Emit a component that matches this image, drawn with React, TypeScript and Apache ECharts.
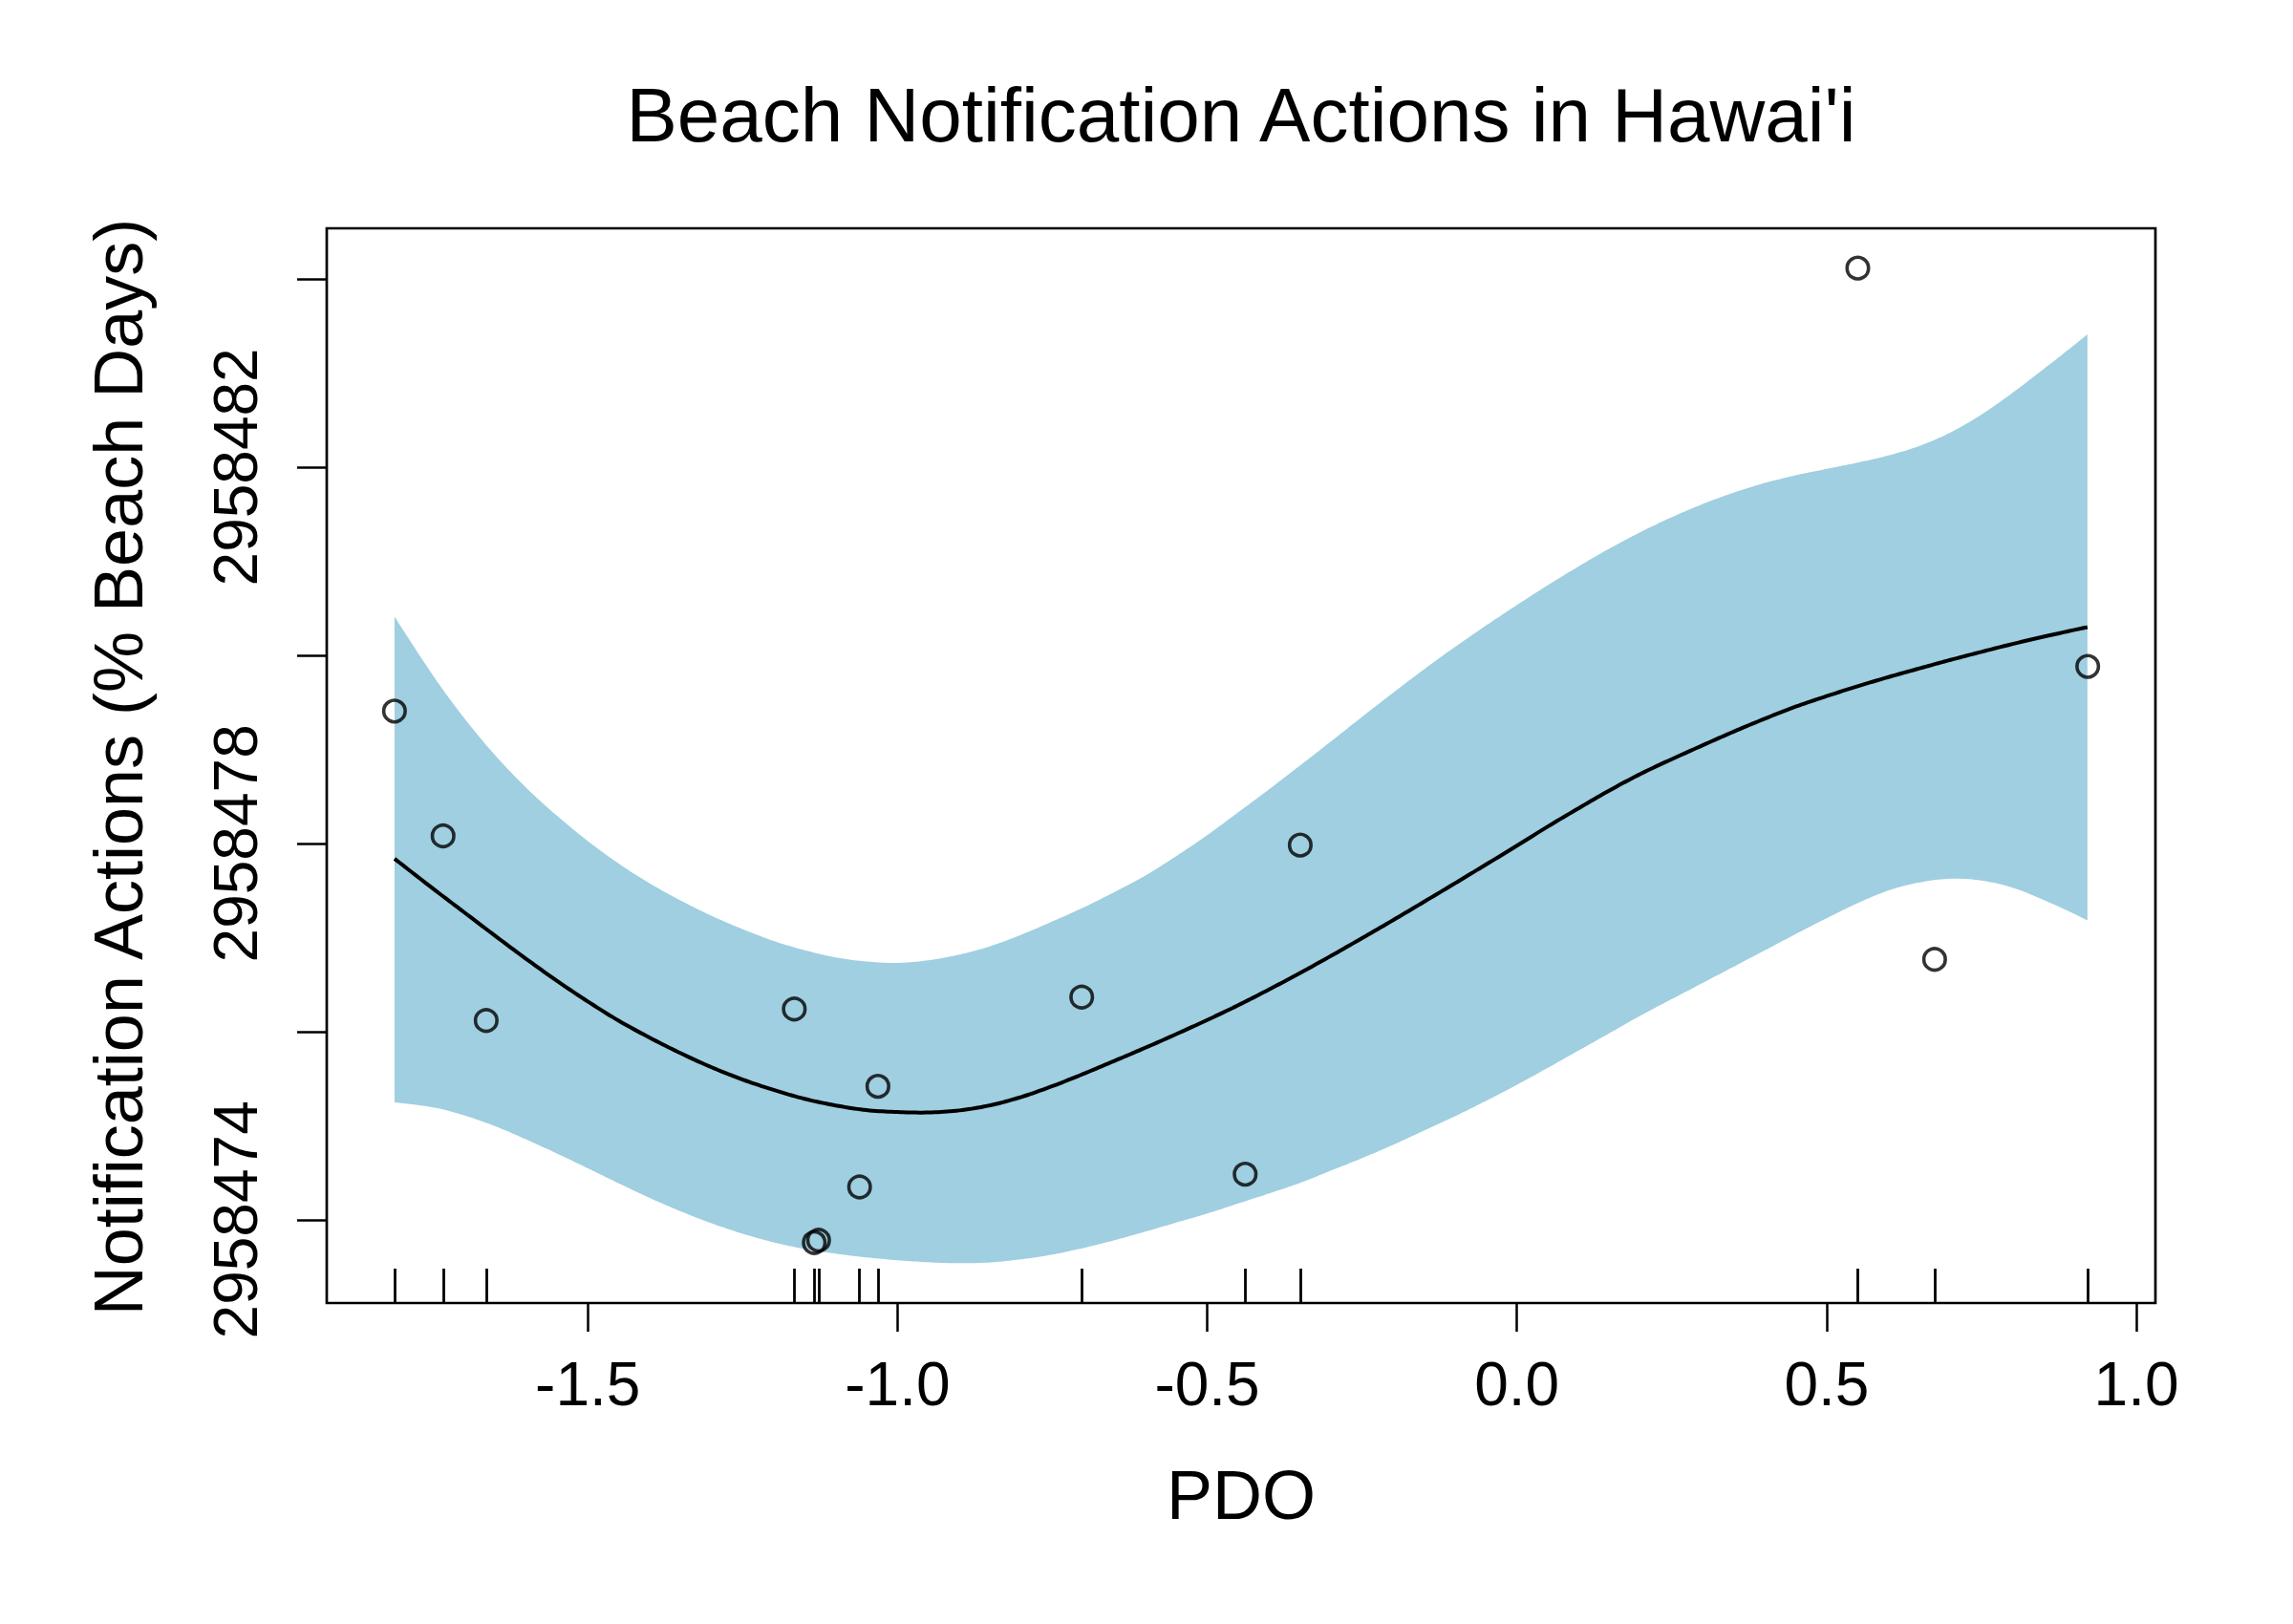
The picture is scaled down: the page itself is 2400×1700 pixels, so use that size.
import React, { useEffect, useRef } from "react";
import * as echarts from "echarts";

const TITLE = "Beach Notification Actions in Hawai'i";
const X_TITLE = "PDO";
const Y_TITLE = "Notification Actions (% Beach Days)";

const X_TICKS = [-1.5, -1.0, -0.5, 0.0, 0.5, 1.0];
const Y_TICKS = [2958474, 2958476, 2958478, 2958480, 2958482, 2958484];
const Y_TICK_LABELS = [2958474, 2958478, 2958482];

// observed points
const PDO_OBS = [-1.8121, -1.7336, -1.664, -1.1666, -1.1344, -1.1274, -1.0612, -1.0316, -0.7026, -0.4387, -0.3498, 0.5503, 0.6743, 0.9215];
const ACTIONS_OBS = [2958479.406, 2958478.08, 2958476.118, 2958476.239, 2958473.757, 2958473.782, 2958474.348, 2958475.418, 2958476.367, 2958474.484, 2958477.982, 2958484.114, 2958476.768, 2958479.881];

// smooth fit and confidence band
const PDO_GRID = [-1.812, -1.75, -1.7, -1.65, -1.6, -1.55, -1.5, -1.45, -1.4, -1.35, -1.3, -1.25, -1.2, -1.15, -1.1, -1.05, -1.0, -0.95, -0.9, -0.85, -0.8, -0.75, -0.7, -0.65, -0.6, -0.55, -0.5, -0.45, -0.4, -0.35, -0.3, -0.25, -0.2, -0.15, -0.1, -0.05, 0.0, 0.05, 0.1, 0.15, 0.2, 0.25, 0.3, 0.35, 0.4, 0.45, 0.5, 0.55, 0.6, 0.65, 0.7, 0.75, 0.8, 0.85, 0.9, 0.921];
const FIT = [2958477.837, 2958477.52, 2958477.27, 2958477.02, 2958476.775, 2958476.54, 2958476.32, 2958476.115, 2958475.935, 2958475.77, 2958475.62, 2958475.49, 2958475.38, 2958475.285, 2958475.215, 2958475.165, 2958475.145, 2958475.14, 2958475.162, 2958475.217, 2958475.305, 2958475.42, 2958475.55, 2958475.688, 2958475.828, 2958475.973, 2958476.123, 2958476.28, 2958476.448, 2958476.623, 2958476.805, 2958476.993, 2958477.184, 2958477.379, 2958477.576, 2958477.775, 2958477.975, 2958478.18, 2958478.375, 2958478.565, 2958478.74, 2958478.895, 2958479.043, 2958479.188, 2958479.325, 2958479.453, 2958479.565, 2958479.67, 2958479.768, 2958479.86, 2958479.95, 2958480.036, 2958480.119, 2958480.196, 2958480.269, 2958480.298];
const UPPER = [2958480.41, 2958479.785, 2958479.335, 2958478.94, 2958478.595, 2958478.295, 2958478.025, 2958477.785, 2958477.575, 2958477.393, 2958477.23, 2958477.088, 2958476.963, 2958476.865, 2958476.788, 2958476.745, 2958476.73, 2958476.758, 2958476.818, 2958476.908, 2958477.03, 2958477.17, 2958477.318, 2958477.482, 2958477.658, 2958477.865, 2958478.088, 2958478.33, 2958478.575, 2958478.828, 2958479.085, 2958479.345, 2958479.6, 2958479.85, 2958480.088, 2958480.315, 2958480.533, 2958480.745, 2958480.945, 2958481.136, 2958481.31, 2958481.467, 2958481.607, 2958481.728, 2958481.83, 2958481.912, 2958481.98, 2958482.047, 2958482.123, 2958482.225, 2958482.367, 2958482.558, 2958482.788, 2958483.04, 2958483.298, 2958483.41];
const LOWER = [2958475.248, 2958475.195, 2958475.11, 2958474.995, 2958474.855, 2958474.705, 2958474.547, 2958474.387, 2958474.232, 2958474.09, 2958473.962, 2958473.852, 2958473.76, 2958473.69, 2958473.64, 2958473.6, 2958473.57, 2958473.548, 2958473.538, 2958473.547, 2958473.58, 2958473.63, 2958473.7, 2958473.782, 2958473.874, 2958473.97, 2958474.066, 2958474.173, 2958474.28, 2958474.392, 2958474.523, 2958474.655, 2958474.796, 2958474.948, 2958475.1, 2958475.263, 2958475.434, 2958475.615, 2958475.8, 2958475.985, 2958476.172, 2958476.345, 2958476.517, 2958476.69, 2958476.863, 2958477.036, 2958477.205, 2958477.365, 2958477.5, 2958477.585, 2958477.625, 2958477.605, 2958477.53, 2958477.4, 2958477.25, 2958477.18];

const X_MIN = -1.9214;
const X_MAX = 1.0308;
const Y_MIN = 2958473.115;
const Y_MAX = 2958484.537;

const FONT = "'Liberation Sans', Arial, Helvetica, sans-serif";
const BAND_COLOR = "#9fcfe0";

// Catmull-Rom interpolation of already projected pixel points
function catmullRom(pts: number[][], seg: number): number[][] {
  const out: number[][] = [];
  const n = pts.length;
  for (let i = 0; i < n - 1; i++) {
    const p0 = pts[Math.max(i - 1, 0)];
    const p1 = pts[i];
    const p2 = pts[i + 1];
    const p3 = pts[Math.min(i + 2, n - 1)];
    for (let s = 0; s < seg; s++) {
      const t = s / seg;
      const t2 = t * t;
      const t3 = t2 * t;
      const c = (k: number) =>
        0.5 *
        (2 * p1[k] +
          (-p0[k] + p2[k]) * t +
          (2 * p0[k] - 5 * p1[k] + 4 * p2[k] - p3[k]) * t2 +
          (-p0[k] + 3 * p1[k] - 3 * p2[k] + p3[k]) * t3);
      out.push([c(0), c(1)]);
    }
  }
  out.push(pts[n - 1]);
  return out;
}

export default function App() {
  const ref = useRef<HTMLDivElement>(null);

  useEffect(() => {
    if (!ref.current) return;
    const chart = echarts.init(ref.current, null, { renderer: "svg" });

    const option: any = {
      animation: false,
      backgroundColor: "#ffffff",
      grid: {
        left: 342,
        right: 144,
        top: 239,
        bottom: 336,
        show: true,
        borderColor: "#000000",
        borderWidth: 2.7,
        backgroundColor: "transparent",
      },
      xAxis: [
        {
          type: "value",
          min: X_MIN,
          max: X_MAX,
          position: "bottom",
          splitLine: { show: false },
          axisLine: { show: false, onZero: false },
          axisTick: {
            show: true,
            inside: false,
            length: 30,
            customValues: X_TICKS,
            lineStyle: { color: "#000000", width: 2.5 },
          },
          axisLabel: {
            show: true,
            customValues: X_TICKS,
            formatter: (v: number) => v.toFixed(1),
            margin: 53,
            fontSize: 64,
            lineHeight: 64,
            color: "#000000",
            fontFamily: FONT,
          },
        },
        {
          type: "value",
          min: X_MIN,
          max: X_MAX,
          position: "bottom",
          splitLine: { show: false },
          axisLine: { show: false, onZero: false },
          axisTick: {
            show: true,
            inside: true,
            length: 36,
            customValues: PDO_OBS,
            lineStyle: { color: "#000000", width: 2.8 },
          },
          axisLabel: { show: false },
        },
      ],
      yAxis: {
        type: "value",
        min: Y_MIN,
        max: Y_MAX,
        scale: true,
        splitLine: { show: false },
        axisLine: { show: false, onZero: false },
        axisTick: {
          show: true,
          inside: false,
          length: 31,
          customValues: Y_TICKS,
          lineStyle: { color: "#000000", width: 2.5 },
        },
        axisLabel: {
          show: true,
          customValues: Y_TICK_LABELS,
          formatter: (v: number) => String(Math.round(v)),
          rotate: 90,
          margin: 63,
          fontSize: 64,
          lineHeight: 64,
          color: "#000000",
          fontFamily: FONT,
        },
      },
      graphic: [
        {
          type: "text",
          x: 1299,
          y: 120,
          style: {
            text: TITLE,
            fontSize: 80,
            fontFamily: FONT,
            fill: "#000000",
            align: "center",
            verticalAlign: "middle",
            textAlign: "center",
            textVerticalAlign: "middle",
          },
        },
        {
          type: "text",
          x: 1299,
          y: 1565,
          style: {
            text: X_TITLE,
            fontSize: 72,
            fontFamily: FONT,
            fill: "#000000",
            align: "center",
            verticalAlign: "middle",
            textAlign: "center",
            textVerticalAlign: "middle",
          },
        },
        {
          type: "text",
          x: 124,
          y: 803,
          rotation: Math.PI / 2,
          style: {
            text: Y_TITLE,
            fontSize: 72,
            fontFamily: FONT,
            fill: "#000000",
            align: "center",
            verticalAlign: "middle",
            textAlign: "center",
            textVerticalAlign: "middle",
          },
        },
      ],
      series: [
        {
          type: "custom",
          name: "band",
          coordinateSystem: "cartesian2d",
          xAxisIndex: 0,
          yAxisIndex: 0,
          silent: true,
          z: 1,
          data: PDO_GRID.map((x, i) => [x, LOWER[i], UPPER[i]]),
          encode: { x: 0, y: [1, 2] },
          renderItem: (params: any, api: any) => {
            if (params.dataIndex !== 0) return null;
            const up: number[][] = [];
            const lo: number[][] = [];
            for (let i = 0; i < PDO_GRID.length; i++) {
              up.push(api.coord([PDO_GRID[i], UPPER[i]]));
              lo.push(api.coord([PDO_GRID[i], LOWER[i]]));
            }
            const upS = catmullRom(up, 10);
            const loS = catmullRom(lo, 10).reverse();
            return {
              type: "polygon",
              shape: { points: upS.concat(loS) },
              style: { fill: BAND_COLOR, stroke: null },
            };
          },
        },
        {
          type: "custom",
          name: "fit",
          coordinateSystem: "cartesian2d",
          xAxisIndex: 0,
          yAxisIndex: 0,
          silent: true,
          z: 2,
          data: PDO_GRID.map((x, i) => [x, FIT[i]]),
          encode: { x: 0, y: 1 },
          renderItem: (params: any, api: any) => {
            if (params.dataIndex !== 0) return null;
            const pts: number[][] = [];
            for (let i = 0; i < PDO_GRID.length; i++) {
              pts.push(api.coord([PDO_GRID[i], FIT[i]]));
            }
            return {
              type: "polyline",
              shape: { points: catmullRom(pts, 10) },
              style: { fill: null, stroke: "#000000", lineWidth: 4, lineJoin: "round" },
            };
          },
        },
        {
          type: "scatter",
          xAxisIndex: 0,
          yAxisIndex: 0,
          z: 3,
          silent: true,
          symbol: "circle",
          symbolSize: 22.5,
          data: PDO_OBS.map((x, i) => [x, ACTIONS_OBS[i]]),
          itemStyle: {
            color: "rgba(0,0,0,0)",
            borderColor: "#000000",
            borderWidth: 3.6,
          },
        },
      ],
    };

    chart.setOption(option);
    return () => {
      chart.dispose();
    };
  }, []);

  return (
    <div
      ref={ref}
      style={{ position: "absolute", left: 0, top: 0, width: 2400, height: 1700 }}
    />
  );
}
